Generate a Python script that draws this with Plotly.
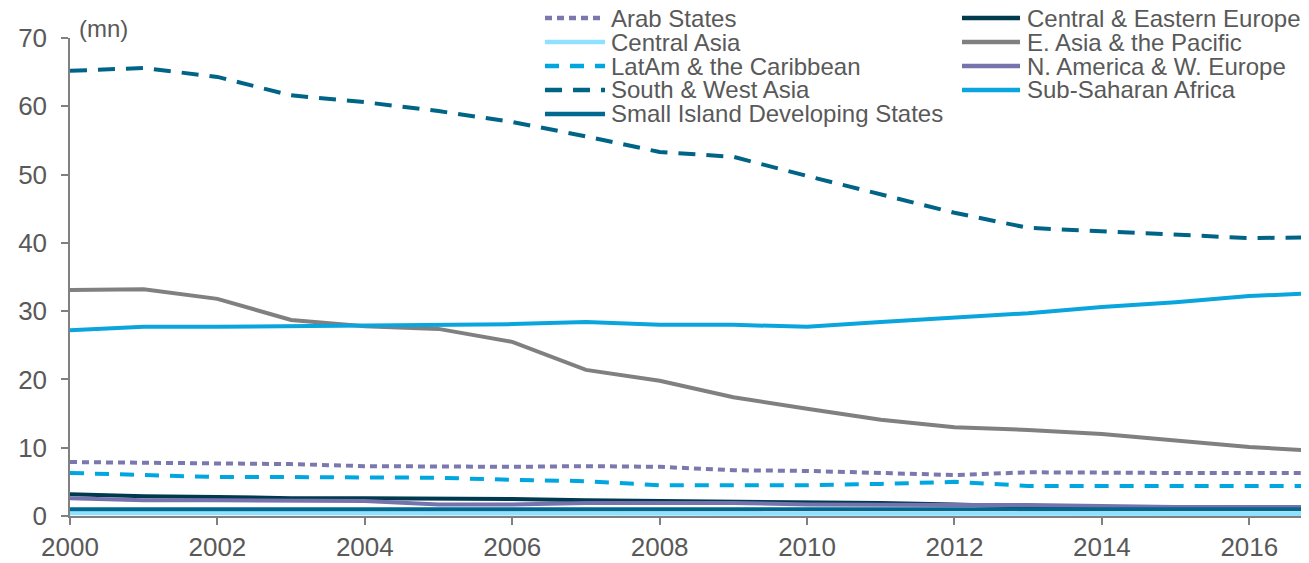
import plotly.graph_objects as go

years = list(range(2000, 2018))

arab_states = [7.9, 7.8, 7.6, 7.6, 7.3, 7.2, 7.2, 7.3, 7.2, 6.7, 6.6, 6.3, 6.0, 6.4, 6.3, 6.3, 6.3, 6.3]
central_eastern_europe = [3.2, 2.9, 2.8, 2.6, 2.6, 2.6, 2.5, 2.3, 2.2, 2.2, 2.0, 1.9, 1.7, 1.4, 1.3, 1.2, 1.2, 1.2]
central_asia = [0.4, 0.4, 0.4, 0.4, 0.3, 0.3, 0.3, 0.3, 0.3, 0.3, 0.3, 0.3, 0.3, 0.3, 0.3, 0.3, 0.3, 0.3]
east_asia_pacific = [33.1, 33.2, 31.8, 28.7, 27.8, 27.4, 25.5, 21.4, 19.8, 17.4, 15.7, 14.1, 13.0, 12.6, 12.0, 11.0, 10.1, 9.5]
latam_caribbean = [6.3, 6.0, 5.7, 5.7, 5.6, 5.6, 5.3, 5.1, 4.5, 4.5, 4.5, 4.7, 5.0, 4.4, 4.4, 4.4, 4.4, 4.4]
n_america_w_europe = [2.6, 2.3, 2.3, 2.2, 2.2, 1.7, 1.7, 1.9, 1.9, 1.9, 1.7, 1.6, 1.6, 1.6, 1.4, 1.3, 1.3, 1.3]
south_west_asia = [65.2, 65.6, 64.3, 61.6, 60.6, 59.3, 57.7, 55.6, 53.3, 52.6, 49.8, 47.1, 44.4, 42.2, 41.7, 41.3, 40.7, 40.8]
sub_saharan_africa = [27.2, 27.7, 27.7, 27.8, 27.8, 28.0, 28.1, 28.4, 28.0, 28.0, 27.7, 28.4, 29.0, 29.7, 30.6, 31.3, 32.2, 32.7]
small_island_states = [1.0, 1.0, 1.0, 1.0, 1.0, 1.0, 1.0, 1.0, 1.0, 1.0, 1.0, 1.0, 1.0, 1.0, 1.0, 1.0, 1.0, 1.0]

x_tick_vals = [2000, 2002, 2004, 2006, 2008, 2010, 2012, 2014, 2016]
y_tick_vals = [0, 10, 20, 30, 40, 50, 60, 70]

# (name, values, colour, dash, legend column, legend row)
series = [
    ("Arab States", arab_states, "#7b78b0", "7px,5px", 0, 0),
    ("Central & Eastern Europe", central_eastern_europe, "#003a4f", "solid", 1, 0),
    ("Central Asia", central_asia, "#8fe1ff", "solid", 0, 1),
    ("E. Asia & the Pacific", east_asia_pacific, "#808080", "solid", 1, 1),
    ("LatAm & the Caribbean", latam_caribbean, "#00a6e0", "14px,11px", 0, 2),
    ("N. America & W. Europe", n_america_w_europe, "#7672ad", "solid", 1, 2),
    ("South & West Asia", south_west_asia, "#006486", "17px,11px", 0, 3),
    ("Sub-Saharan Africa", sub_saharan_africa, "#0aa5dc", "solid", 1, 3),
    ("Small Island Developing States", small_island_states, "#00698f", "solid", 0, 4),
]

W, H = 1301, 555
L, R, T, B = 62, 0, 30, 47
PW, PH = W - L - R, H - T - B
font_color = "#595959"
FONT = "Liberation Sans, Arial, sans-serif"


def px_x(p):
    return (p - L) / PW


def px_y(p):
    return (H - B - p) / PH


fig = go.Figure()
for name, vals, color, dash, col, row in series:
    fig.add_trace(go.Scatter(
        x=years, y=vals, name=name, mode="lines",
        line=dict(color=color, width=4, dash=dash),
        showlegend=False,
    ))

# manual legend (two columns)
col_line = [(537, 597), (954, 1012)]
col_text = [601, 1017]
row_y = [10, 34, 58, 82, 106]
shapes = []
annotations = []
for name, vals, color, dash, col, row in series:
    x0, x1 = col_line[col]
    yy = px_y(row_y[row])
    shapes.append(dict(
        type="line", xref="paper", yref="paper",
        x0=px_x(x0), x1=px_x(x1), y0=yy, y1=yy,
        line=dict(color=color, width=4.5, dash=dash),
    ))
    annotations.append(dict(
        text=name, xref="paper", yref="paper",
        x=px_x(col_text[col]), y=yy, xanchor="left", yanchor="middle",
        showarrow=False, font=dict(family=FONT, size=24, color=font_color),
    ))

annotations.append(dict(
    text="(mn)", xref="paper", yref="paper", x=px_x(69), y=px_y(20),
    xanchor="left", yanchor="middle", showarrow=False,
    font=dict(family=FONT, size=24, color=font_color),
))

fig.update_layout(
    width=W, height=H,
    margin=dict(l=L, r=R, t=T, b=B),
    paper_bgcolor="white", plot_bgcolor="white",
    font=dict(family=FONT, size=24, color=font_color),
    showlegend=False,
    shapes=shapes,
    annotations=annotations,
    xaxis=dict(
        range=[2000, 2016.81], tickvals=x_tick_vals,
        showgrid=False, zeroline=False,
        showline=True, linecolor="#808080", linewidth=1.5,
        ticks="outside", ticklen=7, tickcolor="#808080", tickwidth=1.5,
        tickfont=dict(family=FONT, size=26, color=font_color),
    ),
    yaxis=dict(
        range=[0, 70], tickvals=y_tick_vals,
        showgrid=False, zeroline=False,
        showline=True, linecolor="#808080", linewidth=1.5,
        ticks="outside", ticklen=7, tickcolor="#808080", tickwidth=1.5,
        ticklabelstandoff=9,
        tickfont=dict(family=FONT, size=26, color=font_color),
    ),
)

fig.write_html("out.html")
